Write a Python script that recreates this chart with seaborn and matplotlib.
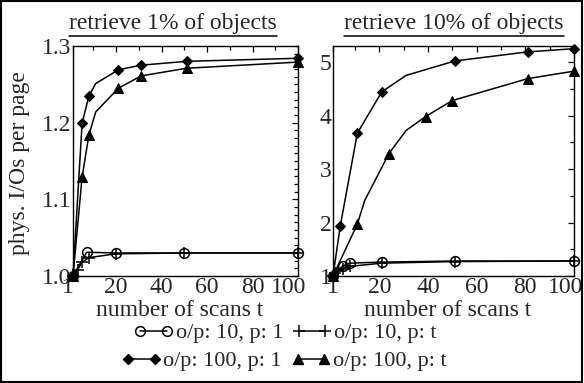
import matplotlib
matplotlib.use("Agg")
import matplotlib.pyplot as plt
from matplotlib import font_manager
from matplotlib.lines import Line2D
from matplotlib.patches import Rectangle
from matplotlib.ticker import FixedLocator, MultipleLocator
from matplotlib.transforms import ScaledTranslation
import seaborn as sns
import pandas as pd

# ---------------- data ----------------
titles = ["retrieve 1% of objects", "retrieve 10% of objects"]
xlabel = "number of scans t"
ylabel = "phys. I/Os per page"
series_names = ["o/p: 10, p: 1", "o/p: 10, p: t", "o/p: 100, p: 1", "o/p: 100, p: t"]
x_ticks = [1, 20, 40, 60, 80, 100]
x_ticklabels = ["1", "20", "40", "60", "80", "100"]
yL_ticks = [1.0, 1.1, 1.2, 1.3]
yL_ticklabels = ["1.0", "1.1", "1.2", "1.3"]
yR_ticks = [1, 2, 3, 4, 5]
yR_ticklabels = ["1", "2", "3", "4", "5"]

# left panel (1%)
l_op10_p1_t = [1, 7, 20, 50, 100]
l_op10_p1_y = [1.000, 1.031, 1.030, 1.030, 1.030]
l_op10_pt_t = [1, 3, 5, 8, 20, 50, 100]
l_op10_pt_y = [1.000, 1.008, 1.018, 1.024, 1.029, 1.030, 1.030]
l_op100_p1_t = [1, 5, 8, 11, 21, 31, 51, 100]
l_op100_p1_y = [1.000, 1.199, 1.235, 1.251, 1.269, 1.275, 1.280, 1.284]
l_op100_pt_t = [1, 5, 8, 11, 21, 31, 51, 100]
l_op100_pt_y = [1.000, 1.129, 1.184, 1.214, 1.245, 1.261, 1.271, 1.279]

# right panel (10%)
r_op10_p1_t = [1, 5, 8, 21, 51, 100]
r_op10_p1_y = [1.00, 1.19, 1.24, 1.26, 1.28, 1.28]
r_op10_pt_t = [1, 2, 3, 5, 8, 21, 51, 100]
r_op10_pt_y = [1.00, 1.06, 1.10, 1.14, 1.18, 1.24, 1.27, 1.28]
r_op100_p1_t = [1, 4, 11, 21, 31, 51, 81, 100]
r_op100_p1_y = [1.00, 1.94, 3.67, 4.44, 4.75, 5.02, 5.19, 5.25]
r_op100_pt_t = [1, 11, 14, 24, 31, 39, 50, 81, 100]
r_op100_pt_y = [1.00, 1.97, 2.41, 3.29, 3.72, 3.98, 4.28, 4.69, 4.83]

# ---------------- style ----------------
sns.set_theme(style="white")

serif_name = "DejaVu Serif"
for f in font_manager.findSystemFonts():
    if "LiberationSerif-Regular" in f:
        font_manager.fontManager.addfont(f)
        serif_name = font_manager.FontProperties(fname=f).get_name()
        break
plt.rcParams["font.family"] = [serif_name, "DejaVu Serif"]
FS = 17

styles = {
    "o/p: 10, p: 1": dict(marker="o", markersize=7, markerfacecolor="none",
                          markeredgecolor="black", markeredgewidth=1.1),
    "o/p: 10, p: t": dict(marker="+", markersize=8, markeredgecolor="black",
                          markeredgewidth=1.1),
    "o/p: 100, p: 1": dict(marker="D", markersize=5, markerfacecolor="black",
                           markeredgecolor="black"),
    "o/p: 100, p: t": dict(marker="^", markersize=7, markerfacecolor="black",
                           markeredgecolor="black"),
}

fig = plt.figure(figsize=(5.84, 3.83), dpi=100)
W, H = 584, 383


def frac_box(x0, y0, x1, y1):
    return [x0 / W, 1 - y1 / H, (x1 - x0) / W, (y1 - y0) / H]


axL = fig.add_axes(frac_box(73, 46, 298, 276))
axR = fig.add_axes(frac_box(333, 46, 574, 276))

panels = [
    (axL, [(l_op10_p1_t, l_op10_p1_y, None), (l_op10_pt_t, l_op10_pt_y, None),
           (l_op100_p1_t, l_op100_p1_y, [0, 1, 2, 4, 5, 6, 7]),
           (l_op100_pt_t, l_op100_pt_y, [0, 1, 2, 4, 5, 6, 7])]),
    (axR, [(r_op10_p1_t, r_op10_p1_y, None), (r_op10_pt_t, r_op10_pt_y, None),
           (r_op100_p1_t, r_op100_p1_y, [0, 1, 2, 3, 5, 6, 7]),
           (r_op100_pt_t, r_op100_pt_y, [0, 1, 3, 5, 6, 7, 8])]),
]

for ax, data in panels:
    for name, (tt, yy, me) in zip(series_names, data):
        df = pd.DataFrame({"t": tt, "y": yy})
        kw = dict(styles[name])
        if me is not None:
            kw["markevery"] = me
        sns.lineplot(data=df, x="t", y="y", ax=ax, color="black", linewidth=1.1,
                     estimator=None, sort=False, clip_on=False, zorder=3, **kw)

for ax in (axL, axR):
    ax.set_xlim(1, 100)
    ax.xaxis.set_major_locator(FixedLocator(x_ticks))
    ax.xaxis.set_minor_locator(FixedLocator([10, 30, 50, 70, 90]))
    ax.set_xticklabels(x_ticklabels)
    ax.tick_params(axis="both", which="both", direction="in", top=True, right=True,
                   color="black", width=0.9, labelsize=FS, pad=1)
    ax.tick_params(which="major", length=4)
    ax.tick_params(which="minor", length=3)
    for s in ax.spines.values():
        s.set_color("black")
        s.set_linewidth(1.0)
    ax.set_xlabel("")
    ax.set_ylabel("")
    if ax.get_legend():
        ax.get_legend().remove()

axL.set_ylim(1.0, 1.3)
axL.yaxis.set_major_locator(FixedLocator(yL_ticks))
axL.yaxis.set_minor_locator(MultipleLocator(0.01))
axL.set_yticklabels(yL_ticklabels)
axR.set_ylim(1.0, 5.3)
axR.yaxis.set_major_locator(FixedLocator(yR_ticks))
axR.yaxis.set_minor_locator(MultipleLocator(0.5))
axR.set_yticklabels(yR_ticklabels)

# nudge edge tick labels like in the reference
def nudge(label, dx_px):
    label.set_transform(label.get_transform() + ScaledTranslation(dx_px / 100, 0, fig.dpi_scale_trans))

nudge(axL.get_xticklabels()[0], -5)
nudge(axL.get_xticklabels()[-1], -9)
nudge(axR.get_xticklabels()[-1], -8)

# axis labels
fig.text(180 / W, 1 - 311 / H, xlabel, ha="center", va="center", fontsize=FS)
fig.text(448 / W, 1 - 311 / H, xlabel, ha="center", va="center", fontsize=FS)
fig.text(20 / W, 1 - 163 / H, ylabel, ha="center", va="center", rotation=90, fontsize=FS)

# titles (underlined)
title_objs = [
    fig.text(173 / W, 1 - 24 / H, titles[0], ha="center", va="center", fontsize=FS),
    fig.text(454 / W, 1 - 24 / H, titles[1], ha="center", va="center", fontsize=FS),
]

# legend: two centred rows
handles = [Line2D([0], [0], color="black", linewidth=1.1, **styles[n]) for n in series_names]
common = dict(frameon=False, fontsize=FS - 1, numpoints=2, handlelength=1.8,
              handletextpad=0.1, columnspacing=0.4, borderpad=0, loc="center")
leg1 = fig.legend(handles[:2], series_names[:2], ncol=2,
                  bbox_to_anchor=(285 / W, 1 - 333 / H), **common)
leg2 = fig.legend(handles[2:], series_names[2:], ncol=2,
                  bbox_to_anchor=(284 / W, 1 - 361 / H), **common)

# figure border
fig.patches.append(Rectangle((0.002, 0.003), 0.995, 0.994, transform=fig.transFigure,
                             fill=False, edgecolor="black", linewidth=1.5))

fig.canvas.draw()
renderer = fig.canvas.get_renderer()
for t in title_objs:
    bb = t.get_window_extent(renderer)
    y = bb.y0 - 1
    fig.add_artist(Line2D([bb.x0 / W, bb.x1 / W], [y / H] * 2,
                          transform=fig.transFigure, color="black", linewidth=1.1))

fig.savefig("out.png", dpi=100)
